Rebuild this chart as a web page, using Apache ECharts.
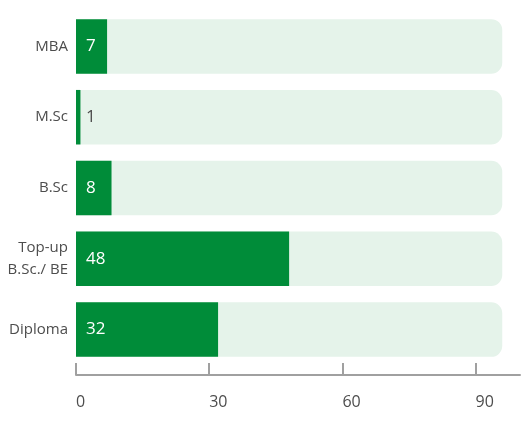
<!DOCTYPE html>
<html>
<head>
<meta charset="utf-8">
<script src="https://cdn.jsdelivr.net/npm/echarts@6/dist/echarts.min.js"></script>
<style>
  html, body { margin: 0; padding: 0; background: #fff; }
  #chart { width: 523px; height: 431px; }
</style>
</head>
<body>
<div id="chart"></div>
<script>
// categories from bottom to top (category axis starts at the bottom)
var categories = ['Diploma', 'Top-up\nB.Sc./ BE', 'B.Sc', 'M.Sc', 'MBA']
var counts = [32, 48, 8, 1, 7]
var trackValues = [96, 96, 96, 96, 96]
var tickValues = [0, 30, 60, 90]

var green = '#008c39'
var track = '#e5f3ea'

var chart = echarts.init(document.getElementById('chart'))

chart.setOption({
  animation: false,
  grid: {
    left: 76,
    right: 3,
    top: 11,
    bottom: 66
  },
  xAxis: {
    type: 'value',
    min: 0,
    max: 100,
    offset: 10,
    splitLine: { show: false },
    axisLine: {
      show: true,
      lineStyle: { color: '#a0a0a0', width: 2 }
    },
    axisTick: {
      show: true,
      inside: true,
      length: 12,
      customValues: tickValues,
      lineStyle: { color: '#a0a0a0', width: 2 }
    },
    axisLabel: {
      customValues: tickValues,
      margin: 19,
      align: 'left',
      color: '#4d4d4d',
      fontSize: 16,
      fontFamily: 'Open Sans'
    }
  },
  yAxis: {
    type: 'category',
    data: categories,
    axisLine: { show: false },
    axisTick: { show: false },
    axisLabel: {
      margin: 8,
      color: '#4d4d4d',
      fontSize: 15,
      lineHeight: 22,
      fontFamily: 'Open Sans'
    }
  },
  series: [
    {
      type: 'bar',
      data: trackValues,
      barWidth: '77%',
      barGap: '-100%',
      silent: true,
      itemStyle: {
        color: track,
        borderRadius: [0, 11, 11, 0]
      },
      z: 1
    },
    {
      type: 'bar',
      data: counts.map(function (v) {
        return {
          value: v,
          label: { color: v < 3 ? '#4d4d4d' : '#fff' }
        }
      }),
      barWidth: '77%',
      itemStyle: { color: green },
      label: {
        show: true,
        position: 'insideLeft',
        distance: 10,
        fontSize: 17,
        fontFamily: 'Open Sans'
      },
      z: 2
    }
  ]
})
</script>
</body>
</html>
